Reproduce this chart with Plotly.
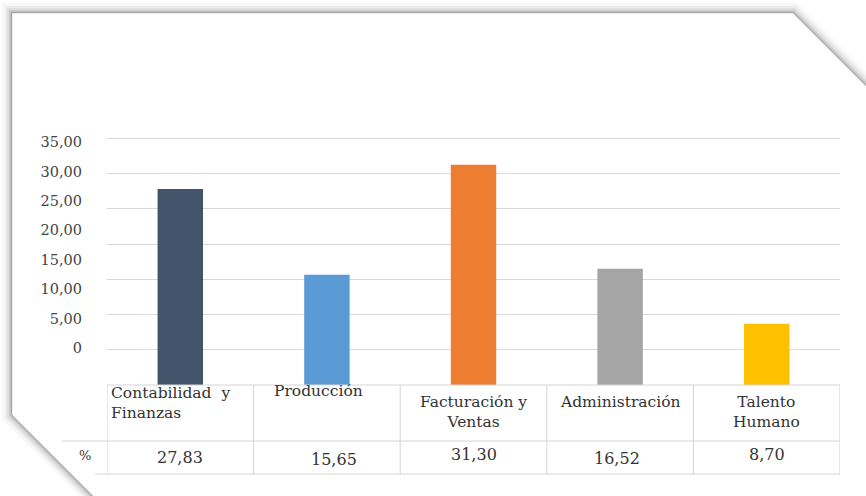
import plotly.graph_objects as go

# ---- data ----
categories = ["Contabilidad y Finanzas", "Producción", "Facturación y Ventas",
              "Administración", "Talento Humano"]
header_labels = ["Contabilidad  y<br>Finanzas", "Producción", "Facturación y<br>Ventas",
                 "Administración", "Talento<br>Humano"]
values = [27.83, 15.65, 31.30, 16.52, 8.70]
row_label = "%"
tick_values = [0, 5, 10, 15, 20, 25, 30, 35]
tick_labels = ["0", "5,00", "10,00", "15,00", "20,00", "25,00", "30,00", "35,00"]

# ---- style ----
colors = ["#44546A", "#5B9BD5", "#ED7D31", "#A5A5A5", "#FFC000"]
W, H = 866, 496
L, R, T, B = 107, 26, 120, 111          # plot area: x 107..840, y 120..385
PW, PH = W - L - R, H - T - B
SERIF = "DejaVu Serif"
TXT = "#333333"
GRID = "#d9d9d9"


def px(xp):
    return (xp - L) / PW


def py(yp):
    return (H - B - yp) / PH


fig = go.Figure()
fig.add_trace(go.Bar(x=categories, y=values, marker=dict(color=colors, line=dict(width=0)),
                     width=0.31, hoverinfo="skip", showlegend=False))
# invisible helper trace so the label axis is drawn
fig.add_trace(go.Scatter(x=[categories[0]], y=[tick_values[0]], yaxis="y2", mode="markers",
                         marker=dict(opacity=0), hoverinfo="skip", showlegend=False))

# ---- card with soft shadow ----
pts = [(12, 13), (793, 13), (886, 106), (886, 520), (117, 520), (12, 415)]
path = "M " + " L ".join(f"{px(a):.5f},{py(b):.5f}" for a, b in pts) + " Z"
shapes = []
for w, a in [(20, 0.03), (14, 0.045), (10, 0.06), (6, 0.08), (3, 0.11)]:
    shapes.append(dict(type="path", path=path, xref="paper", yref="paper", layer="below",
                       line=dict(color=f"rgba(0,0,0,{a})", width=w)))
shapes.append(dict(type="path", path=path, xref="paper", yref="paper", layer="below",
                   fillcolor="white", line=dict(color="rgba(0,0,0,0.15)", width=1)))

# ---- data table lines ----
tl = dict(color="#d4d4d4", width=1)
shapes.append(dict(type="line", xref="paper", yref="paper", x0=0, x1=1, y0=py(385), y1=py(385), line=tl))
shapes.append(dict(type="line", xref="paper", yref="paper", x0=px(62), x1=1, y0=py(441), y1=py(441), line=tl))
shapes.append(dict(type="line", xref="paper", yref="paper", x0=px(95), x1=1, y0=py(474), y1=py(474), line=tl))
for i in range(len(categories) + 1):
    shapes.append(dict(type="line", xref="x", yref="paper", x0=i - 0.5, x1=i - 0.5,
                       y0=py(385), y1=py(474), line=tl))

annotations = []
head_shift = [9, 11, 0, 0, 0]
head_align = ["left", "center", "center", "center", "center"]
head_xshift = [-10, -8, 0, 0, 0]
for i, (c, lab) in enumerate(zip(categories, header_labels)):
    annotations.append(dict(x=c, xref="x", y=py(391), yref="paper", yanchor="top",
                            xanchor="center",
                            yshift=head_shift[i], xshift=head_xshift[i],
                            text=lab, showarrow=False, align=head_align[i],
                            font=dict(family=SERIF, size=15.5, color=TXT)))
val_xshift = [0, 7, 0, -3, 0]
val_yshift = [0, -2, 3, -1, 3]
for i, (c, v) in enumerate(zip(categories, values)):
    annotations.append(dict(x=c, xref="x", y=py(457), yref="paper", yanchor="middle",
                            xanchor="center",
                            xshift=val_xshift[i], yshift=val_yshift[i],
                            text=f"{v:.2f}".replace(".", ","), showarrow=False,
                            font=dict(family=SERIF, size=16, color=TXT)))
annotations.append(dict(x=px(85), xref="paper", y=py(455), yref="paper", text=row_label,
                        xanchor="center", yanchor="middle",
                        showarrow=False, font=dict(family=SERIF, size=13, color=TXT)))

fig.update_layout(
    width=W, height=H,
    margin=dict(l=L, r=R, t=T, b=B, pad=0),
    paper_bgcolor="white", plot_bgcolor="rgba(0,0,0,0)",
    xaxis=dict(showticklabels=False, showgrid=False, zeroline=False, showline=False,
               range=[-0.5, 4.5], fixedrange=True),
    yaxis=dict(range=[0, 37.64], tickvals=tick_values, showticklabels=False,
               showgrid=True, gridcolor=GRID, gridwidth=1, zeroline=False, showline=False),
    yaxis2=dict(overlaying="y", side="left", range=[-6.29, 38.74], tickvals=tick_values,
                ticktext=tick_labels, showgrid=False, zeroline=False, showline=False,
                ticklabelstandoff=24,
                tickfont=dict(family=SERIF, size=14.5, color="#444444")),
    shapes=shapes, annotations=annotations,
    bargap=0.69,
)

fig.write_html("out.html", config={"displayModeBar": False},
               post_script="document.body.style.margin='0';")
